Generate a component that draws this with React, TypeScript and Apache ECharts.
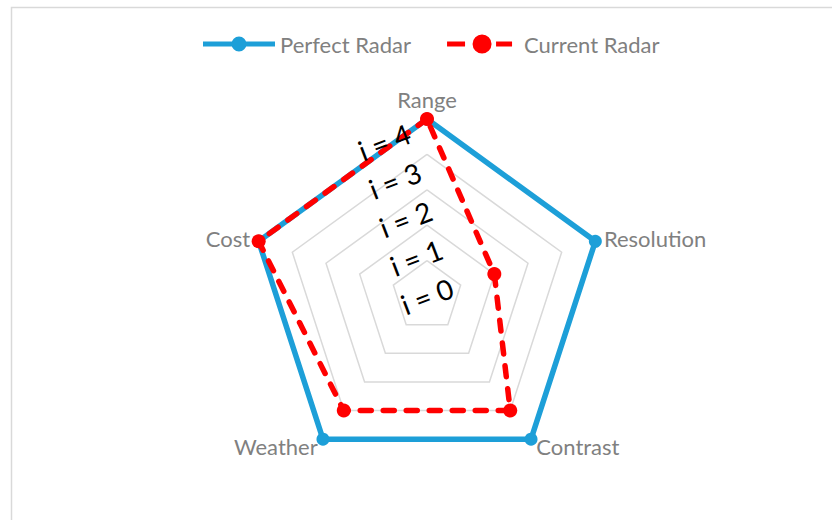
import React, { useEffect, useRef } from 'react';
import * as echarts from 'echarts';

// Indicators listed counter-clockwise from the top (ECharts radar order)
const indicators = ['Range', 'Cost', 'Weather', 'Contrast', 'Resolution'];
const maxValue = 5;
const perfectValues = [5, 5, 5, 5, 5];
const currentValues = [5, 5, 4, 4, 2];
const seriesNames = ['Perfect Radar', 'Current Radar'];
const ringLabels = ['i = 0', 'i = 1', 'i = 2', 'i = 3', 'i = 4'];

const BLUE = '#1d9fd8';
const RED = '#ff0000';
const GRAY = '#808080';
const GRID = '#d9d9d9';
const FONT = 'Lato';

const blueIcon =
  'path://M0,0L0,0ZM72,20L72,20ZM0,7.5H30V12.5H0ZM42,7.5H72V12.5H42ZM28.5,10A7.5,7.5 0 1 1 43.5,10A7.5,7.5 0 1 1 28.5,10Z';
const redIcon =
  'path://M0,0L0,0ZM72,20L72,20ZM0,7.5H18V12.5H0ZM49,7.5H65V12.5H49ZM25.5,10A9.5,9.5 0 1 1 44.5,10A9.5,9.5 0 1 1 25.5,10Z';

export default function App() {
  const ref = useRef<HTMLDivElement>(null);

  useEffect(() => {
    if (!ref.current) return;
    const chart = echarts.init(ref.current, undefined, { renderer: 'svg' });
    const center = [427, 296];
    chart.setOption({
      animation: false,
      backgroundColor: '#ffffff',
      graphic: [
        {
          type: 'rect',
          silent: true,
          z: -1,
          shape: { x: 11.5, y: 7.5, width: 900, height: 600 },
          style: { fill: 'none', stroke: GRID, lineWidth: 1.5 },
        },
      ],
      legend: {
        left: 203,
        top: 33,
        padding: 0,
        itemWidth: 72,
        itemHeight: 20,
        itemGap: 36,
        textStyle: { color: GRAY, fontSize: 22, fontFamily: FONT },
        itemStyle: { borderWidth: 0 },
        data: [
          { name: seriesNames[0], icon: blueIcon },
          { name: seriesNames[1], icon: redIcon },
        ],
      },
      radar: [
        {
          center,
          radius: 177,
          startAngle: 90,
          shape: 'polygon',
          splitNumber: 5,
          indicator: indicators.map((n) => ({ name: n, min: 0, max: maxValue })),
          axisName: { color: GRAY, fontSize: 22, fontFamily: FONT },
          axisNameGap: 9,
          splitLine: { lineStyle: { color: GRID, width: 1.5 } },
          splitArea: { show: false },
          axisLine: { show: false },
          axisTick: { show: false },
          axisLabel: { show: false },
        },
        {
          center,
          radius: 200,
          startAngle: 105.5,
          shape: 'polygon',
          splitNumber: 5,
          z: 5,
          indicator: indicators.map((n, i) =>
            i === 0
              ? { name: '', min: 0, max: maxValue, axisLabel: { show: true } }
              : { name: '', min: 0, max: maxValue }
          ),
          axisName: { show: false },
          splitLine: { show: false },
          splitArea: { show: false },
          axisLine: { show: false },
          axisTick: { show: false },
          axisLabel: {
            show: false,
            rotate: 21,
            margin: 0,
            align: 'center',
            verticalAlign: 'middle',
            color: '#000000',
            fontSize: 28,
            fontFamily: FONT,
            formatter: (v: number) => ringLabels[Math.round(v)] ?? '',
          },
        },
      ],
      series: [
        {
          type: 'radar',
          radarIndex: 0,
          z: 2,
          data: [
            {
              name: seriesNames[0],
              value: perfectValues,
              symbol: 'circle',
              symbolSize: 13,
              lineStyle: { color: BLUE, width: 5.5 },
              itemStyle: { color: BLUE },
            },
            {
              name: seriesNames[1],
              value: currentValues,
              symbol: 'circle',
              symbolSize: 14,
              lineStyle: { color: RED, width: 5.5, type: [11, 12], cap: 'round' },
              itemStyle: { color: RED },
            },
          ],
        },
      ],
    });
    return () => chart.dispose();
  }, []);

  return (
    <div
      ref={ref}
      style={{ position: 'absolute', left: 0, top: 0, width: 832, height: 520 }}
    />
  );
}
